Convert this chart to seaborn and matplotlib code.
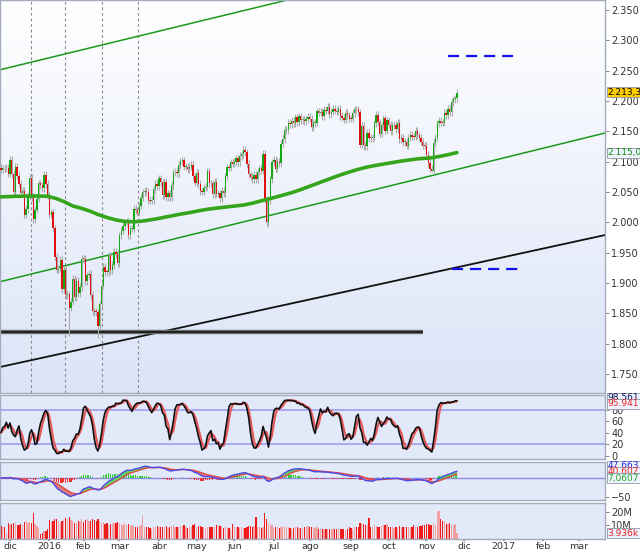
import numpy as np
import pandas as pd
import matplotlib
matplotlib.use("Agg")
import matplotlib.pyplot as plt
from matplotlib.colors import LinearSegmentedColormap
from matplotlib.ticker import FuncFormatter
import seaborn as sns

sns.set_theme(style="white")
plt.rcParams['font.family'] = ['DejaVu Sans']
plt.rcParams['lines.scale_dashes'] = False

# ---------------- data ----------------
market_holidays = ['2015-11-26', '2015-12-25', '2016-01-01', '2016-01-18', '2016-02-15',
                   '2016-03-25', '2016-05-30', '2016-07-04', '2016-09-05', '2016-11-24']
first_open = 2089.4

close_2015_11 = [2086.59, 2089.14, 2088.87, 2090.11, 2080.41]
close_2015_12 = [2102.63, 2079.51, 2049.62, 2091.69, 2077.07, 2063.59, 2047.62, 2052.23, 2012.37, 2021.94,
                 2043.41, 2073.07, 2041.89, 2005.55, 2021.15, 2038.97, 2064.29, 2060.99, 2056.50, 2078.36,
                 2063.36, 2043.94]
close_2016_01 = [2012.66, 2016.71, 1990.26, 1943.09, 1922.03, 1923.67, 1938.68, 1890.28, 1921.84, 1880.33,
                 1881.33, 1859.33, 1868.99, 1906.90, 1877.08, 1903.63, 1882.95, 1893.36, 1940.24]
close_2016_02 = [1939.38, 1903.03, 1912.53, 1915.45, 1880.05, 1853.44, 1852.21, 1851.86, 1829.08, 1864.78,
                 1895.58, 1926.82, 1917.83, 1917.78, 1945.50, 1921.27, 1929.80, 1951.70, 1948.05, 1932.23]
close_2016_03 = [1978.35, 1986.45, 1993.40, 1999.99, 2001.76, 1979.26, 1989.26, 1989.57, 2022.19, 2019.64,
                 2015.93, 2027.22, 2040.59, 2049.58, 2051.60, 2049.80, 2036.71, 2035.94, 2037.05, 2055.01,
                 2063.95, 2059.74]
close_2016_04 = [2072.78, 2066.13, 2045.17, 2066.66, 2041.91, 2047.60, 2041.99, 2061.72, 2082.42, 2082.78,
                 2080.73, 2094.34, 2100.80, 2102.40, 2091.48, 2091.58, 2087.79, 2091.70, 2095.15, 2075.81,
                 2065.30]
close_2016_05 = [2081.43, 2063.37, 2051.12, 2050.63, 2057.14, 2058.69, 2084.39, 2064.46, 2064.11, 2046.61,
                 2066.66, 2047.21, 2047.63, 2040.04, 2052.32, 2048.04, 2076.06, 2090.54, 2090.10, 2099.06,
                 2096.95]
close_2016_06 = [2099.33, 2105.26, 2099.13, 2109.41, 2112.13, 2119.12, 2115.48, 2096.07, 2079.06, 2075.32,
                 2071.50, 2077.99, 2071.22, 2083.25, 2088.90, 2085.45, 2113.32, 2037.41, 2000.54, 2036.09,
                 2070.77, 2098.86]
close_2016_07 = [2102.95, 2088.55, 2099.73, 2097.90, 2129.90, 2137.16, 2152.14, 2152.43, 2163.75, 2161.74,
                 2166.89, 2163.78, 2173.02, 2165.17, 2175.03, 2168.48, 2169.18, 2166.58, 2170.06, 2173.60]
close_2016_08 = [2170.84, 2157.03, 2163.79, 2164.25, 2182.87, 2180.89, 2181.74, 2175.49, 2185.79, 2184.05,
                 2190.15, 2178.15, 2182.22, 2187.02, 2183.87, 2182.64, 2186.90, 2175.44, 2172.47, 2169.04,
                 2180.38, 2176.12, 2170.95]
close_2016_09 = [2170.86, 2179.98, 2186.48, 2186.16, 2181.30, 2127.81, 2159.04, 2127.02, 2125.77, 2147.26,
                 2139.16, 2139.12, 2139.76, 2163.12, 2177.18, 2164.69, 2146.10, 2159.93, 2171.37, 2151.13,
                 2168.27]
close_2016_10 = [2161.20, 2150.49, 2159.73, 2160.77, 2153.74, 2163.66, 2136.73, 2139.18, 2132.55, 2132.98,
                 2126.50, 2139.60, 2144.29, 2141.34, 2141.16, 2151.33, 2143.16, 2139.43, 2133.04, 2126.41,
                 2126.15]
close_2016_11 = [2111.72, 2097.94, 2088.66, 2085.18, 2131.52, 2139.56, 2163.26, 2167.48, 2164.45, 2164.20,
                 2180.39, 2176.94, 2187.12, 2181.90, 2198.18, 2202.94, 2204.72, 2213.35]

# notable intraday lows (long lower wicks)
wick_low_dates = ['2016-01-20', '2016-02-11', '2016-06-27', '2016-11-04', '2016-09-13']
wick_low_values = [1812.3, 1810.1, 1991.7, 2083.8, 2119.7]

# volume, millions
vol_2015_11 = [9.5, 9.8, 8.5, 4.0, 12.0]
vol_2015_12 = [10.5, 11.0, 12.0, 11.5, 10.0, 10.5, 11.0, 10.0, 12.5, 13.0, 12.0, 12.5, 11.5, 19.5, 11.0,
               9.5, 8.0, 3.5, 4.5, 6.0, 5.5, 7.0]
vol_2016_01 = [14, 12.5, 13, 15, 14.5, 13, 12, 13, 14, 15.5, 15, 16, 14, 13.5, 11.5, 12, 13, 13.5, 15]
vol_2016_02 = [12.5, 14, 15, 13.5, 13, 14.5, 14, 13.5, 15, 13, 12, 12.5, 11, 11.5, 10, 11, 11, 11.5, 12, 12.5]
vol_2016_03 = [12, 11, 10.5, 11.5, 10, 11, 9.5, 10, 9.5, 8.5, 9, 9.5, 10.5, 17.5, 8.5, 8.5, 8.5, 8, 7.5,
               8.5, 9, 9.5]
vol_2016_04 = [9, 8.5, 9, 9, 9.5, 8, 9, 9.5, 10, 9, 8.5, 8.5, 9.5, 9.5, 10, 8.5, 8, 8.5, 9, 10, 11]
vol_2016_05 = [9, 9.5, 9.5, 9, 8.5, 8, 8.5, 9, 9, 8.5, 8.5, 10, 10, 9.5, 9.5, 8, 8.5, 8.5, 8, 7.5, 11]
vol_2016_06 = [9, 8.5, 8.5, 8, 8.5, 8, 8, 9, 9.5, 9.5, 9, 9.5, 16, 9, 8.5, 8, 8.5, 19.5, 14.5, 11.5, 10, 10.5]
vol_2016_07 = [8, 8.5, 9, 8, 9, 9, 9.5, 8.5, 8.5, 8, 7.5, 8, 8.5, 8.5, 8, 8, 8, 8.5, 9, 9.5]
vol_2016_08 = [8.5, 9, 8.5, 8, 8.5, 7.5, 7, 7.5, 7.5, 7, 7, 7.5, 7, 7.5, 7.5, 7, 7, 7, 7.5, 7.5, 6.5, 7, 8.5]
vol_2016_09 = [8, 7.5, 8.5, 8.5, 8.5, 12, 11.5, 11, 10, 10.5, 15.5, 9, 9, 10, 9.5, 8.5, 8.5, 9.5, 10, 10.5, 11]
vol_2016_10 = [9, 9, 8.5, 8, 8.5, 7.5, 9.5, 8.5, 9, 9, 8.5, 8.5, 9, 9, 10, 9, 9, 9.5, 9.5, 10, 10.5]
vol_2016_11 = [11, 11, 10.5, 10.5, 12, 10.5, 20.5, 21, 15, 13.5, 13, 11, 11, 11.5, 10.5, 10.5, 11, 3.9]

# 200-session moving average
ma_dates = ['2015-11-23', '2015-12-07', '2015-12-21', '2015-12-31', '2016-01-08', '2016-01-15',
            '2016-01-22', '2016-01-29', '2016-02-05', '2016-02-11', '2016-02-19', '2016-02-26',
            '2016-03-04', '2016-03-10', '2016-03-16', '2016-03-22', '2016-03-31', '2016-04-08',
            '2016-04-18', '2016-04-26', '2016-05-04', '2016-05-11', '2016-05-20', '2016-05-31',
            '2016-06-08', '2016-06-15', '2016-06-22', '2016-06-30', '2016-07-08', '2016-07-18',
            '2016-07-25', '2016-08-01', '2016-08-08', '2016-08-15', '2016-08-22', '2016-08-29',
            '2016-09-07', '2016-09-14', '2016-09-21', '2016-09-28', '2016-10-05', '2016-10-12',
            '2016-10-19', '2016-10-26', '2016-11-03', '2016-11-10', '2016-11-17', '2016-11-25']
ma_values = [2042, 2043, 2043.5, 2043, 2039, 2033, 2027, 2023, 2018, 2013, 2008, 2004,
             2001.5, 2001, 2001.5, 2003, 2006, 2009.5, 2013, 2016, 2019.5, 2022, 2024.5, 2026.5,
             2028.5, 2031.5, 2035.5, 2040, 2044, 2049, 2054, 2059.5, 2065, 2070.5, 2076, 2081,
             2086.5, 2090.5, 2093.5, 2096, 2098.5, 2101, 2103, 2105, 2106, 2108.5, 2111.5, 2115.01]

# drawn lines (two anchor points each)
upper_channel = [('2015-11-23', 2251.9), ('2016-06-29', 2359.7)]
lower_channel = [('2015-11-23', 1902.5), ('2016-06-29', 2011.6)]
long_trend = [('2015-11-23', 1761.9), ('2016-06-29', 1858.7)]
support_level = 1819.2
support_end = '2016-10-28'
vline_dates = ['2015-12-16', '2016-01-14', '2016-02-16', '2016-03-15']
target_high = (2274.7, '2016-11-17', '2017-01-09')
target_low = (1923.6, '2016-11-21', '2017-01-12')

month_names = ['ene', 'feb', 'mar', 'abr', 'may', 'jun', 'jul', 'ago', 'sep', 'oct', 'nov', 'dic']

# ---------------- preparation ----------------
hist_dates = pd.bdate_range('2015-11-23', '2016-11-25', freq='C', holidays=market_holidays)
future_dates = pd.bdate_range('2016-11-28', '2017-03-31')
all_dates = hist_dates.append(future_dates)
idx_of = {d: i for i, d in enumerate(all_dates)}


def xi(d):
    return idx_of[pd.Timestamp(d)]


closes = np.array(close_2015_11 + close_2015_12 + close_2016_01 + close_2016_02 + close_2016_03 +
                  close_2016_04 + close_2016_05 + close_2016_06 + close_2016_07 + close_2016_08 +
                  close_2016_09 + close_2016_10 + close_2016_11)
volumes = np.array(vol_2015_11 + vol_2015_12 + vol_2016_01 + vol_2016_02 + vol_2016_03 + vol_2016_04 +
                   vol_2016_05 + vol_2016_06 + vol_2016_07 + vol_2016_08 + vol_2016_09 + vol_2016_10 +
                   vol_2016_11)
n = len(closes)
assert n == len(hist_dates) == len(volumes), (n, len(hist_dates), len(volumes))
x = np.arange(n)
opens = np.concatenate([[first_open], closes[:-1]])
up = closes >= opens

body_lo = np.minimum(opens, closes)
body_hi = np.maximum(opens, closes)
pad = 6.0
wlo = body_lo - pad
whi = body_hi + pad
for d, v in zip(wick_low_dates, wick_low_values):
    wlo[xi(d)] = v

c = pd.Series(closes)
lo14 = pd.Series(wlo).rolling(14, min_periods=1).min()
hi14 = pd.Series(whi).rolling(14, min_periods=1).max()
kraw = (100 * (c - lo14) / (hi14 - lo14)).clip(0, 100)
stoch_k = kraw.rolling(3, min_periods=1).mean()
stoch_d = stoch_k.rolling(3, min_periods=1).mean()
ema12 = c.ewm(span=12, adjust=False).mean()
ema26 = c.ewm(span=26, adjust=False).mean()
macd = ema12 - ema26
signal = macd.ewm(span=9, adjust=False).mean()
hist = macd - signal

# ---------------- figure ----------------
W, H = 640, 552
fig = plt.figure(figsize=(W / 100, H / 100), dpi=100)
fig.patch.set_facecolor('white')


def rect(top, bottom, left=0, right=605):
    return [left / W, 1 - bottom / H, (right - left) / W, (bottom - top) / H]


ax = fig.add_axes(rect(0, 393))
ax_st = fig.add_axes(rect(395, 459), sharex=ax)
ax_md = fig.add_axes(rect(462, 500), sharex=ax)
ax_vo = fig.add_axes(rect(503, 539), sharex=ax)

edge = '#a3abbd'
lab_col = '#333333'
for a in (ax, ax_st, ax_md, ax_vo):
    for s in a.spines.values():
        s.set_color(edge)
        s.set_linewidth(1.0)
    a.yaxis.tick_right()
    a.tick_params(axis='y', which='both', right=True, left=False, length=3, width=0.6, color='#777777',
                  labelsize=7, labelcolor=lab_col, pad=1.5)
    a.tick_params(axis='x', bottom=False, labelbottom=False)
    a.grid(False)

# gradient background
grad = np.linspace(0, 1, 256).reshape(-1, 1)
cmap = LinearSegmentedColormap.from_list('bg', ['#ffffff', '#dbe4f7'])
ax.imshow(grad, extent=[0, 1, 0, 1], transform=ax.transAxes, aspect='auto', cmap=cmap, origin='upper',
          zorder=0)
for a in (ax_st, ax_md, ax_vo):
    a.set_facecolor('#e2e9f9')

# vertical dashed lines
for d in vline_dates:
    ax.axvline(xi(d) + 0.5, color='#8a8a8a', lw=0.8, ls=(0, (2.0, 2.0)), zorder=1)

# trend lines
for line, col, lw in ((upper_channel, '#1b991b', 1.1), (lower_channel, '#1b991b', 1.1),
                      (long_trend, '#111111', 1.3)):
    (d1, v1), (d2, v2) = line
    ax.axline((xi(d1), v1), (xi(d2), v2), color=col, lw=lw, zorder=2)

ax.hlines(support_level, -1, xi(support_end), color='#777777', lw=3.2, zorder=2)
ax.hlines(support_level, -1, xi(support_end), color='#222222', lw=1.6, zorder=2)

# candles
ax.vlines(x, wlo, whi, color='#adadad', lw=0.8, zorder=3)
ax.bar(x, np.maximum(body_hi - body_lo, 1.2), bottom=body_lo, width=0.75,
       color=np.where(up, '#14a814', '#e01010'), lw=0, zorder=4)

# moving average
ma_x = [xi(d) for d in ma_dates]
sns.lineplot(x=ma_x, y=ma_values, ax=ax, color='#35a51c', lw=2.6, zorder=5)

# targets
for val, d1, d2 in (target_high, target_low):
    ax.hlines(val, xi(d1), xi(d2), color='#1111ee', lw=1.6, linestyles=[(0, (8.0, 5.0))], zorder=5)

ax.set_xlim(-0.56, 336.5)
ax.set_ylim(1718.7, 2366.5)
ax.set_yticks(np.arange(1750, 2351, 50))
ax.yaxis.set_major_formatter(FuncFormatter(lambda v, p: f"{v:,.0f}".replace(",", ".")))

# stochastic
sns.lineplot(x=x, y=stoch_d.values, ax=ax_st, color='#e85a5a', lw=1.6, zorder=3)
sns.lineplot(x=x, y=stoch_k.values, ax=ax_st, color='#111111', lw=1.2, zorder=4)
for lvl in (80, 20):
    ax_st.axhline(lvl, color='#a9a9f2', lw=1.4, zorder=1)
ax_st.set_ylim(-5.2, 105.6)
ax_st.set_yticks([0, 20, 40, 60, 80])

# MACD
ax_md.axhline(0, color='#8c8ce6', lw=1.0, zorder=1)
ax_md.bar(x, hist.values, width=0.6, color=np.where(hist.values >= 0, '#33cc33', '#ee3333'), lw=0, zorder=2)
ax_md.fill_between(x, macd.values, signal.values, where=(macd.values >= signal.values), interpolate=True,
                   color='#5fd35f', lw=0, zorder=3)
ax_md.fill_between(x, macd.values, signal.values, where=(macd.values < signal.values), interpolate=True,
                   color='#e27a7a', lw=0, zorder=3)
sns.lineplot(x=x, y=signal.values, ax=ax_md, color='#e04848', lw=1.0, zorder=4)
sns.lineplot(x=x, y=macd.values, ax=ax_md, color='#4a4ae8', lw=1.0, zorder=5)
ax_md.set_ylim(-58, 42)
ax_md.set_yticks([-50])

# volume
ax_vo.bar(x, volumes, width=0.7, color=np.where(up, '#f2a2a2', '#f01c1c'), lw=0, zorder=2)
ax_vo.set_ylim(-0.3, 26.8)
ax_vo.set_yticks([10, 20])
ax_vo.yaxis.set_major_formatter(FuncFormatter(lambda v, p: f"{v:.0f}M"))

# month ticks
month_starts = pd.date_range('2015-12-01', '2017-03-01', freq='MS')
tick_pos, tick_lab = [], []
for m in month_starts:
    i = int(all_dates.searchsorted(m))
    tick_pos.append(i)
    tick_lab.append(str(m.year) if m.month == 1 else month_names[m.month - 1])
ax_vo.set_xticks(tick_pos)
ax_vo.set_xticklabels(tick_lab)
ax_vo.tick_params(axis='x', bottom=True, labelbottom=True, length=1.5, color='#777777', labelsize=6.8,
                  labelcolor=lab_col, pad=0.5)
ax.set_xlim(-0.56, 336.5)


# value boxes at the right
def vbox(ypx, s, color, fc):
    fig.text(607.5 / W, 1 - ypx / H, s, color=color, fontsize=6.5, ha='left', va='center',
             bbox=dict(boxstyle='square,pad=0.1', fc=fc, ec='#8e96a8', lw=0.6), zorder=10)


vbox(92, '2.213,35', '#000000', '#ffcc00')
vbox(153, '2.115,01', '#118811', '#eef3fd')
vbox(398, '98.561', '#111155', '#eef3fd')
vbox(404, '95.941', '#ee2222', '#eef3fd')
vbox(466, '47.663', '#2222dd', '#eef3fd')
vbox(472, '40.602', '#ee2222', '#eef3fd')
vbox(478, '7,0607', '#22aa22', '#eef3fd')
vbox(533, '3.936k', '#ee2222', '#eef3fd')

fig.savefig('out.png', dpi=100, facecolor='white')
